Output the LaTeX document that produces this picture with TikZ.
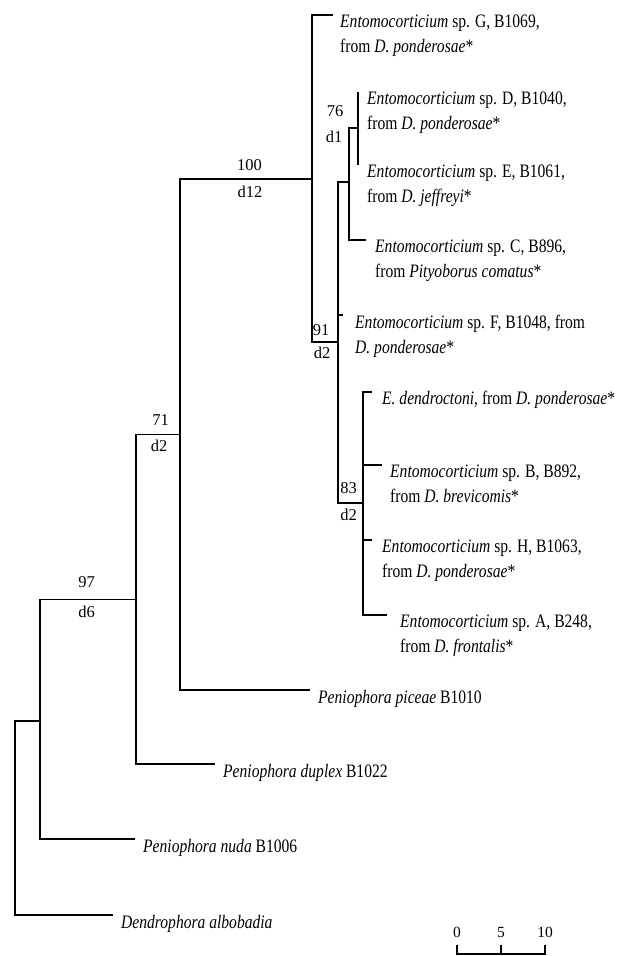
\documentclass[tikz,border=0pt]{standalone}
\usepackage{fontspec}
\setmainfont{Liberation Serif}
\newfontfamily\labfont{Liberation Serif}[FakeStretch=0.82]
\begin{document}
\begin{tikzpicture}[x=1pt,y=-1pt,
  br/.style={line width=1.5pt, line join=miter},
  lab/.style={anchor=north west, inner sep=0pt, align=left, font=\labfont\fontsize{19}{24.5}\selectfont},
  bsval/.style={inner sep=0pt, font=\fontsize{16.5}{17}\selectfont},
  sbl/.style={inner sep=0pt, font=\fontsize{15.5}{16}\selectfont}]
\useasboundingbox (0,0) rectangle (618,956);
% internal nodes
\coordinate (R) at (15,818);
\coordinate (N1) at (40,721);
\coordinate (N97) at (136,599.5);
\coordinate (N71) at (180,434.5);
\coordinate (N100) at (312,179);
\coordinate (N91) at (338,342);
\coordinate (N3) at (349,182);
\coordinate (N76) at (358,128);
\coordinate (N83) at (363,503);
% tips
\coordinate (tG) at (333,15);
\coordinate (tD) at (358,92);
\coordinate (tE) at (358,165);
\coordinate (tC) at (366,240);
\coordinate (tF) at (343,315);
\coordinate (tDe) at (372,392);
\coordinate (tB) at (382,465);
\coordinate (tH) at (372,540);
\coordinate (tA) at (387,615);
\coordinate (tPi) at (310,690);
\coordinate (tDu) at (215,764);
\coordinate (tNu) at (135,839);
\coordinate (tDa) at (113,915);
% branches
\draw[br] (R) |- (N1);
\draw[br] (R) |- (tDa);
\draw[br] (N1) |- (N97);
\draw[br] (N1) |- (tNu);
\draw[br] (N97) |- (N71);
\draw[br] (N97) |- (tDu);
\draw[br] (N71) |- (N100);
\draw[br] (N71) |- (tPi);
\draw[br] (N100) |- (tG);
\draw[br] (N100) |- (N91);
\draw[br] (N91) |- (N3);
\draw[br] (N91) |- (tF);
\draw[br] (N91) |- (N83);
\draw[br] (N3) |- (N76);
\draw[br] (N3) |- (tC);
\draw[br] (N76) -- (tD);
\draw[br] (N76) -- (tE);
\draw[br] (N83) |- (tDe);
\draw[br] (N83) |- (tB);
\draw[br] (N83) |- (tH);
\draw[br] (N83) |- (tA);
% leaf labels
\node[lab] (lG) at (340,15) {\textit{Entomocorticium} sp. G, B1069,\\from \textit{D. ponderosae}*};
\node[lab] (lD) at (367,92) {\textit{Entomocorticium} sp. D, B1040,\\from \textit{D. ponderosae}*};
\node[lab] (lE) at (367,165) {\textit{Entomocorticium} sp. E, B1061,\\from \textit{D. jeffreyi}*};
\node[lab] (lC) at (375,240) {\textit{Entomocorticium} sp. C, B896,\\from \textit{Pityoborus comatus}*};
\node[lab] (lF) at (355,315) {\textit{Entomocorticium} sp. F, B1048, from\\\textit{D. ponderosae}*};
\node[lab] (lDe) at (382,391) {\textit{E. dendroctoni}, from \textit{D. ponderosae}*};
\node[lab] (lB) at (390,465) {\textit{Entomocorticium} sp. B, B892,\\from \textit{D. brevicomis}*};
\node[lab] (lH) at (382,540) {\textit{Entomocorticium} sp. H, B1063,\\from \textit{D. ponderosae}*};
\node[lab] (lA) at (400,615) {\textit{Entomocorticium} sp. A, B248,\\from \textit{D. frontalis}*};
\node[lab] (lPi) at (318,690) {\textit{Peniophora piceae} B1010};
\node[lab] (lDu) at (223,764) {\textit{Peniophora duplex} B1022};
\node[lab] (lNu) at (143,839) {\textit{Peniophora nuda} B1006};
\node[lab] (lDa) at (121,915) {\textit{Dendrophora albobadia}};
% support values
\node[bsval] (s100) at (249.5,165) {100};
\node[bsval] (d100) at (250,192) {d12};
\node[bsval] (s71) at (160.5,420) {71};
\node[bsval] (d71) at (159,446) {d2};
\node[bsval] (s97) at (86.5,582) {97};
\node[bsval] (d97) at (86.5,612) {d6};
\node[bsval] (s76) at (335,111) {76};
\node[bsval] (d76) at (334,137) {d1};
\node[bsval] (s91) at (321,330) {91};
\node[bsval] (d91) at (322,353) {d2};
\node[bsval] (s83) at (348.5,488) {83};
\node[bsval] (d83) at (348.5,515) {d2};
% scale bar
\coordinate (sb0) at (457,954);
\coordinate (sb5) at (501,954);
\coordinate (sb10) at (545,954);
\coordinate (sb0t) at (457,945);
\coordinate (sb5t) at (501,945);
\coordinate (sb10t) at (545,945);
\draw[br] (sb0t) -- (sb0) -- (sb10) -- (sb10t);
\draw[br] (sb5) -- (sb5t);
\node[sbl] (k0) at (457,932) {0};
\node[sbl] (k5) at (501,932) {5};
\node[sbl] (k10) at (545,932) {10};
\end{tikzpicture}
\end{document}
